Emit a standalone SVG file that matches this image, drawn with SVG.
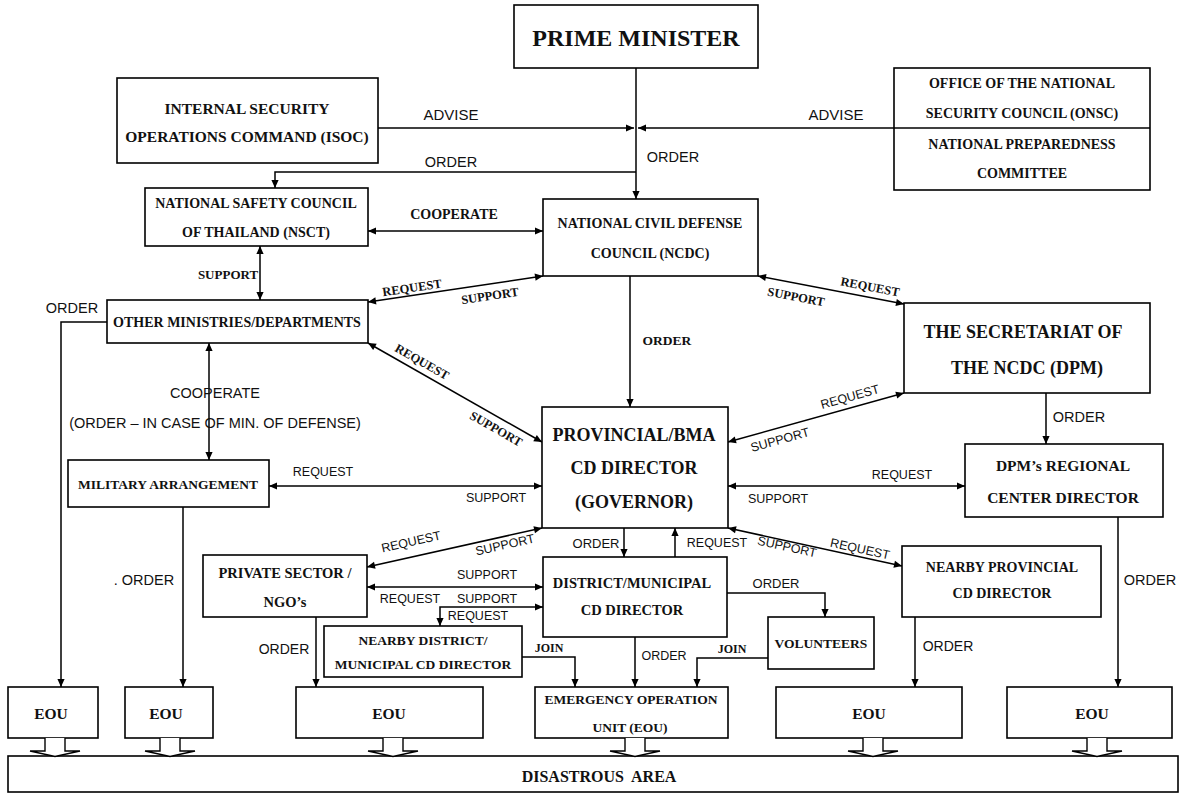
<svg xmlns="http://www.w3.org/2000/svg" width="1182" height="800" viewBox="0 0 1182 800">
<style>
.bx{fill:#fff;stroke:#000;stroke-width:1.6}
.ln{fill:none;stroke:#000;stroke-width:1.5}
.da{marker-start:url(#ah);marker-end:url(#ah)}
.ea{marker-end:url(#ah)}
.ho{fill:#fff;stroke:#000;stroke-width:1.4}
.t{font-family:"Liberation Serif",serif;font-weight:bold;text-anchor:middle;dominant-baseline:central;fill:#111}
.s{font-family:"Liberation Sans",sans-serif;text-anchor:middle;dominant-baseline:central;fill:#111}
</style>
<defs>
<marker id="ah" viewBox="0 0 10 10" refX="10" refY="5" markerWidth="9" markerHeight="8" markerUnits="userSpaceOnUse" orient="auto-start-reverse">
<path d="M0,0.5 L10,5 L0,9.5 z" fill="#000"/>
</marker>
</defs>
<rect width="1182" height="800" fill="#fff"/>

<g id="connectors">
<path class="ln ea" d="M636,68 V199"/>
<path class="ln ea" d="M378,128 H634"/>
<path class="ln ea" d="M894,128 H638"/>
<path class="ln ea" d="M636,172 H275 V188"/>
<path class="ln da" d="M368,231 H543"/>
<path class="ln da" d="M260,246 V300"/>
<path class="ln ea" d="M107,322 H61 V687"/>
<path class="ln da" d="M368,302 L543,276"/>
<path class="ln da" d="M368,343 L542,442"/>
<path class="ln ea" d="M630,276 V407"/>
<path class="ln da" d="M758,276 L904,304"/>
<path class="ln ea" d="M1046,393 V444"/>
<path class="ln da" d="M209,343 V460"/>
<path class="ln da" d="M269,486 H542"/>
<path class="ln da" d="M904,393 L728,442"/>
<path class="ln da" d="M728,486 H965"/>
<path class="ln ea" d="M183,507 V687"/>
<path class="ln ea" d="M1118,517 V687"/>
<path class="ln da" d="M542,528 L367,567"/>
<path class="ln ea" d="M624,528 V557"/>
<path class="ln ea" d="M675,557 V528"/>
<path class="ln da" d="M728,528 L902,566"/>
<path class="ln da" d="M367,587 H543"/>
<path class="ln da" d="M440,626 V607 H543"/>
<path class="ln ea" d="M316,617 V687"/>
<path class="ln ea" d="M522,657 H575 V687"/>
<path class="ln ea" d="M635,637 V687"/>
<path class="ln ea" d="M727,593 H825 V617"/>
<path class="ln ea" d="M768,658 H697 V687"/>
<path class="ln ea" d="M915,617 V687"/>

<text class="s" x="451" y="114" font-size="15">ADVISE</text>
<text class="s" x="836" y="114" font-size="15">ADVISE</text>
<text class="s" x="451" y="162" font-size="14.5">ORDER</text>
<text class="s" x="673" y="157" font-size="14.5">ORDER</text>
<text class="t" x="454" y="214" font-size="14">COOPERATE</text>
<text class="t" x="228" y="274" font-size="13">SUPPORT</text>
<text class="s" x="72" y="308" font-size="14.5">ORDER</text>
<text class="t" x="412" y="288" font-size="12.5" transform="rotate(-8.5 412 288)">REQUEST</text>
<text class="t" x="490" y="296" font-size="12.5" transform="rotate(-8.5 490 296)">SUPPORT</text>
<text class="t" x="422" y="362" font-size="12.5" transform="rotate(29.6 422 362)">REQUEST</text>
<text class="t" x="496" y="429" font-size="12.5" transform="rotate(29.6 496 429)">SUPPORT</text>
<text class="t" x="667" y="340" font-size="13.5">ORDER</text>
<text class="t" x="870" y="287" font-size="12.5" transform="rotate(10.9 870 287)">REQUEST</text>
<text class="t" x="796" y="297" font-size="12.5" transform="rotate(10.9 796 297)">SUPPORT</text>
<text class="s" x="1079" y="417" font-size="14.5">ORDER</text>
<text class="s" x="215" y="393" font-size="14.5">COOPERATE</text>
<text class="s" x="215" y="423" font-size="14.5">(ORDER – IN CASE OF MIN. OF DEFENSE)</text>
<text class="s" x="323" y="472" font-size="12.5">REQUEST</text>
<text class="s" x="496" y="498" font-size="12.5">SUPPORT</text>
<text class="s" x="850" y="397" font-size="12.5" transform="rotate(-15.6 850 397)">REQUEST</text>
<text class="s" x="780" y="440" font-size="12.5" transform="rotate(-15.6 780 440)">SUPPORT</text>
<text class="s" x="902" y="475" font-size="12.5">REQUEST</text>
<text class="s" x="778" y="499" font-size="12.5">SUPPORT</text>
<text class="s" x="144" y="580" font-size="14.5">. ORDER</text>
<text class="s" x="1150" y="580" font-size="14.5">ORDER</text>
<text class="s" x="411" y="542" font-size="12.5" transform="rotate(-12.6 411 542)">REQUEST</text>
<text class="s" x="505" y="545" font-size="12.5" transform="rotate(-12.6 505 545)">SUPPORT</text>
<text class="s" x="596" y="543" font-size="13">ORDER</text>
<text class="s" x="717" y="543" font-size="12.5">REQUEST</text>
<text class="s" x="787" y="547" font-size="12.5" transform="rotate(12.3 787 547)">SUPPORT</text>
<text class="s" x="860" y="549" font-size="12.5" transform="rotate(12.3 860 549)">REQUEST</text>
<text class="s" x="487" y="575" font-size="12.5">SUPPORT</text>
<text class="s" x="410" y="599" font-size="12.5">REQUEST</text>
<text class="s" x="487" y="599" font-size="12.5">SUPPORT</text>
<text class="s" x="478" y="616" font-size="12.5">REQUEST</text>
<text class="s" x="776" y="583" font-size="13">ORDER</text>
<text class="s" x="284" y="649" font-size="14">ORDER</text>
<text class="t" x="549" y="648" font-size="12">JOIN</text>
<text class="s" x="664" y="656" font-size="12.5">ORDER</text>
<text class="t" x="732" y="649" font-size="12">JOIN</text>
<text class="s" x="948" y="646" font-size="14">ORDER</text>
</g>

<g id="prime-minister"><rect class="bx" x="514" y="5" width="244" height="63"/><text class="t" x="636" y="38" font-size="24">PRIME MINISTER</text></g>
<g id="isoc"><rect class="bx" x="117" y="78" width="261" height="85"/><text class="t" x="247" y="108" font-size="15.5">INTERNAL SECURITY</text><text class="t" x="247" y="136" font-size="15.5">OPERATIONS COMMAND (ISOC)</text></g>
<g id="onsc"><rect class="bx" x="894" y="68" width="256" height="122"/><line class="ln" x1="894" y1="128" x2="1150" y2="128"/><text class="t" x="1022" y="83" font-size="14">OFFICE OF THE NATIONAL</text><text class="t" x="1022" y="113" font-size="14">SECURITY COUNCIL (ONSC)</text><text class="t" x="1022" y="144" font-size="14">NATIONAL PREPAREDNESS</text><text class="t" x="1022" y="173" font-size="14">COMMITTEE</text></g>
<g id="nsct"><rect class="bx" x="145" y="188" width="223" height="58"/><text class="t" x="256" y="203" font-size="14">NATIONAL SAFETY COUNCIL</text><text class="t" x="256" y="232" font-size="14">OF THAILAND (NSCT)</text></g>
<g id="ncdc"><rect class="bx" x="543" y="199" width="215" height="77"/><text class="t" x="650" y="223" font-size="14">NATIONAL CIVIL DEFENSE</text><text class="t" x="650" y="253" font-size="14">COUNCIL (NCDC)</text></g>
<g id="other-ministries"><rect class="bx" x="107" y="300" width="261" height="43"/><text class="t" x="237" y="322" font-size="14">OTHER MINISTRIES/DEPARTMENTS</text></g>
<g id="secretariat"><rect class="bx" x="904" y="303" width="246" height="90"/><text class="t" x="1023" y="332" font-size="18">THE SECRETARIAT OF</text><text class="t" x="1027" y="368" font-size="18">THE NCDC (DPM)</text></g>
<g id="provincial"><rect class="bx" x="542" y="407" width="186" height="121"/><text class="t" x="634" y="435" font-size="18">PROVINCIAL/BMA</text><text class="t" x="634" y="468" font-size="18">CD DIRECTOR</text><text class="t" x="634" y="502" font-size="18">(GOVERNOR)</text></g>
<g id="military"><rect class="bx" x="68" y="460" width="201" height="47"/><text class="t" x="168" y="484" font-size="13.5">MILITARY ARRANGEMENT</text></g>
<g id="dpm-regional"><rect class="bx" x="965" y="444" width="198" height="73"/><text class="t" x="1063" y="465" font-size="15.5">DPM’s REGIONAL</text><text class="t" x="1063" y="497" font-size="15.5">CENTER DIRECTOR</text></g>
<g id="private-sector"><rect class="bx" x="203" y="555" width="164" height="62"/><text class="t" x="285" y="573" font-size="14.5">PRIVATE SECTOR /</text><text class="t" x="285" y="602" font-size="14.5">NGO’s</text></g>
<g id="district"><rect class="bx" x="543" y="557" width="184" height="80"/><text class="t" x="632" y="583" font-size="14.5">DISTRICT/MUNICIPAL</text><text class="t" x="632" y="610" font-size="14.5">CD DIRECTOR</text></g>
<g id="nearby-district"><rect class="bx" x="324" y="626" width="198" height="51"/><text class="t" x="423" y="640" font-size="13.5">NEARBY DISTRICT/</text><text class="t" x="423" y="664" font-size="13.5">MUNICIPAL CD DIRECTOR</text></g>
<g id="volunteers"><rect class="bx" x="768" y="617" width="106" height="52"/><text class="t" x="821" y="643" font-size="13.5">VOLUNTEERS</text></g>
<g id="nearby-provincial"><rect class="bx" x="902" y="546" width="199" height="71"/><text class="t" x="1002" y="567" font-size="14">NEARBY PROVINCIAL</text><text class="t" x="1002" y="593" font-size="14">CD DIRECTOR</text></g>

<g id="eou-1"><rect class="bx" x="8" y="687" width="90" height="51"/><text class="t" x="51" y="713" font-size="15.5">EOU</text></g>
<g id="eou-2"><rect class="bx" x="125" y="687" width="88" height="51"/><text class="t" x="166" y="713" font-size="15.5">EOU</text></g>
<g id="eou-3"><rect class="bx" x="296" y="687" width="187" height="51"/><text class="t" x="389" y="713" font-size="15.5">EOU</text></g>
<g id="eou-main"><rect class="bx" x="535" y="687" width="193" height="51"/><text class="t" x="631" y="699" font-size="13.5">EMERGENCY OPERATION</text><text class="t" x="630" y="727" font-size="13.5">UNIT (EOU)</text></g>
<g id="eou-5"><rect class="bx" x="776" y="687" width="186" height="51"/><text class="t" x="869" y="713" font-size="15.5">EOU</text></g>
<g id="eou-6"><rect class="bx" x="1007" y="687" width="165" height="51"/><text class="t" x="1092" y="713" font-size="15.5">EOU</text></g>

<g id="disastrous-area"><rect class="bx" x="8" y="756" width="1170" height="36"/><text class="t" x="599" y="776" font-size="16" xml:space="preserve">DISASTROUS  AREA</text></g>

<g id="eou-arrows">
<path class="ho" d="M45,738 V751 H30 L55,756.5 L80,751 H65 V738"/>
<path class="ho" d="M160,738 V751 H145 L170,756.5 L195,751 H180 V738"/>
<path class="ho" d="M383,738 V751 H368 L393,756.5 L418,751 H403 V738"/>
<path class="ho" d="M625,738 V751 H610 L635,756.5 L660,751 H645 V738"/>
<path class="ho" d="M863,738 V751 H848 L873,756.5 L898,751 H883 V738"/>
<path class="ho" d="M1087,738 V751 H1072 L1097,756.5 L1122,751 H1107 V738"/>
</g>
</svg>
